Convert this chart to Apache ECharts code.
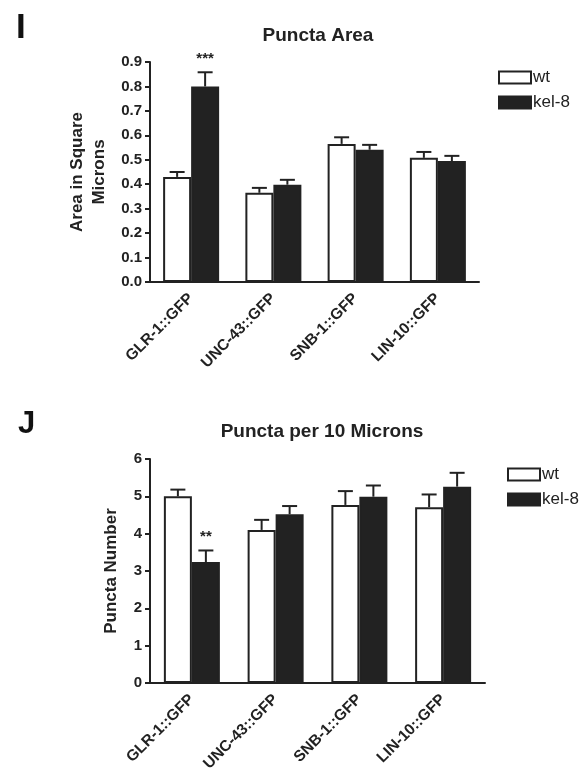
<!DOCTYPE html>
<html lang="en">
<head>
    <meta charset="UTF-8">
    <title>Puncta Area / Puncta per 10 Microns</title>
    <script src="https://cdn.jsdelivr.net/npm/echarts@6.0.0/dist/echarts.min.js"></script>
    <style>
        html, body { margin: 0; padding: 0; background: #fff; }
        #chart { width: 587px; height: 779px; }
    </style>
</head>
<body>
    <div id="chart"></div>
    <script>
        // data
        const categories = ['GLR-1::GFP', 'UNC-43::GFP', 'SNB-1::GFP', 'LIN-10::GFP'];

        // panel I: puncta area (square microns)
        const areaWt = [0.43, 0.365, 0.565, 0.508];
        const areaWtErr = [0.02, 0.02, 0.027, 0.024];
        const areaKel = [0.80, 0.398, 0.541, 0.495];
        const areaKelErr = [0.058, 0.02, 0.02, 0.021];
        const areaSig = ['***', '', '', ''];

        // panel J: puncta per 10 microns
        const numWt = [5.0, 4.1, 4.77, 4.71];
        const numWtErr = [0.18, 0.27, 0.37, 0.34];
        const numKel = [3.24, 4.52, 4.99, 5.26];
        const numKelErr = [0.31, 0.22, 0.3, 0.37];
        const numSig = ['**', '', '', ''];

        const areaTicks = { min: 0, max: 0.9, interval: 0.1 };
        const numTicks = { min: 0, max: 6, interval: 1 };

        const ink = '#222';
        const font = "'Liberation Sans', Arial, sans-serif";
        const barW = 28;
        const noSig = ['', '', '', ''];

        const chart = echarts.init(document.getElementById('chart'));

        // error bar (upward only) + optional significance stars
        function errSeries(name, vals, errs, sig, offset, axisIdx) {
            return {
                name: name,
                type: 'custom',
                xAxisIndex: axisIdx,
                yAxisIndex: axisIdx,
                z: 5,
                silent: true,
                data: vals.map((v, i) => [i, v, errs[i]]),
                renderItem: function (params, api) {
                    const i = api.value(0);
                    const v = api.value(1);
                    const e = api.value(2);
                    const base = api.coord([i, v]);
                    const top = api.coord([i, v + e]);
                    const x = base[0] + offset;
                    const kids = [
                        { type: 'line', shape: { x1: x, y1: base[1], x2: x, y2: top[1] },
                          style: { stroke: ink, lineWidth: 2 } },
                        { type: 'line', shape: { x1: x - 7.5, y1: top[1], x2: x + 7.5, y2: top[1] },
                          style: { stroke: ink, lineWidth: 2 } }
                    ];
                    const s = sig[params.dataIndex];
                    if (s) {
                        kids.push({ type: 'text', x: x, y: top[1] - 6,
                            style: { text: s, fill: ink, font: 'bold 15px ' + font,
                                     align: 'center', verticalAlign: 'bottom' } });
                    }
                    return { type: 'group', children: kids };
                }
            };
        }

        function barSeries(name, vals, fill, axisIdx) {
            return {
                name: name,
                type: 'bar',
                xAxisIndex: axisIdx,
                yAxisIndex: axisIdx,
                data: vals,
                barWidth: barW,
                barGap: '0%',
                itemStyle: { color: fill, borderColor: ink, borderWidth: 2 },
                emphasis: { disabled: true }
            };
        }

        function xAxis(gridIdx) {
            return {
                type: 'category',
                gridIndex: gridIdx,
                data: categories,
                axisLine: { lineStyle: { color: ink, width: 2 } },
                axisTick: { alignWithLabel: true, length: 6, lineStyle: { color: ink, width: 2 } },
                axisLabel: { rotate: 45, interval: 0, margin: 14, color: ink,
                             fontFamily: font, fontWeight: 'bold', fontSize: 15.5 }
            };
        }

        function yAxis(gridIdx, ticks, name, gap, fmt) {
            return {
                type: 'value',
                gridIndex: gridIdx,
                min: ticks.min,
                max: ticks.max,
                interval: ticks.interval,
                name: name,
                nameLocation: 'middle',
                nameRotate: 90,
                nameGap: gap,
                nameTextStyle: { color: ink, fontFamily: font, fontWeight: 'bold',
                                 fontSize: 17, lineHeight: 22 },
                splitLine: { show: false },
                axisLine: { show: true, lineStyle: { color: ink, width: 2 } },
                axisTick: { show: true, length: 5, lineStyle: { color: ink, width: 2 } },
                axisLabel: { margin: 8, color: ink, fontFamily: font, fontWeight: 'bold',
                             fontSize: 15, formatter: fmt }
            };
        }

        function legend(left, top) {
            return {
                orient: 'vertical',
                left: left,
                top: top,
                padding: 0,
                icon: 'rect',
                itemWidth: 32,
                itemHeight: 12,
                itemGap: 8,
                selectedMode: false,
                textStyle: { color: ink, fontFamily: font, fontSize: 17, padding: [0, 0, 0, -3] },
                data: [
                    { name: 'wt', itemStyle: { color: '#fff', borderColor: ink, borderWidth: 2 } },
                    { name: 'kel-8', itemStyle: { color: ink, borderColor: ink, borderWidth: 2 } }
                ]
            };
        }

        const option = {
            backgroundColor: '#fff',
            animation: false,
            title: [
                { text: 'I', left: 11, top: 6,
                  textStyle: { color: '#111', fontFamily: font, fontWeight: 'bold', fontSize: 35 } },
                { text: 'J', left: 13, top: 404,
                  textStyle: { color: '#111', fontFamily: font, fontWeight: 'bold', fontSize: 31 } },
                { text: 'Puncta Area', left: 313, top: 21, textAlign: 'center',
                  textStyle: { color: ink, fontFamily: font, fontWeight: 'bold', fontSize: 19 } },
                { text: 'Puncta per 10 Microns', left: 317, top: 417, textAlign: 'center',
                  textStyle: { color: ink, fontFamily: font, fontWeight: 'bold', fontSize: 19 } }
            ],
            legend: [legend(498, 69), legend(507, 466)],
            grid: [
                { left: 150, top: 62, width: 329, height: 220 },
                { left: 150, top: 459, width: 335, height: 224 }
            ],
            xAxis: [xAxis(0), xAxis(1)],
            yAxis: [
                yAxis(0, areaTicks, 'Area in Square\nMicrons', 36, v => v.toFixed(1)),
                yAxis(1, numTicks, 'Puncta Number', 24, v => String(v))
            ],
            series: [
                barSeries('wt', areaWt, '#fff', 0),
                barSeries('kel-8', areaKel, ink, 0),
                errSeries('wt', areaWt, areaWtErr, noSig, -barW / 2, 0),
                errSeries('kel-8', areaKel, areaKelErr, areaSig, barW / 2, 0),
                barSeries('wt', numWt, '#fff', 1),
                barSeries('kel-8', numKel, ink, 1),
                errSeries('wt', numWt, numWtErr, noSig, -barW / 2, 1),
                errSeries('kel-8', numKel, numKelErr, numSig, barW / 2, 1)
            ]
        };

        chart.setOption(option);
    </script>
</body>
</html>
